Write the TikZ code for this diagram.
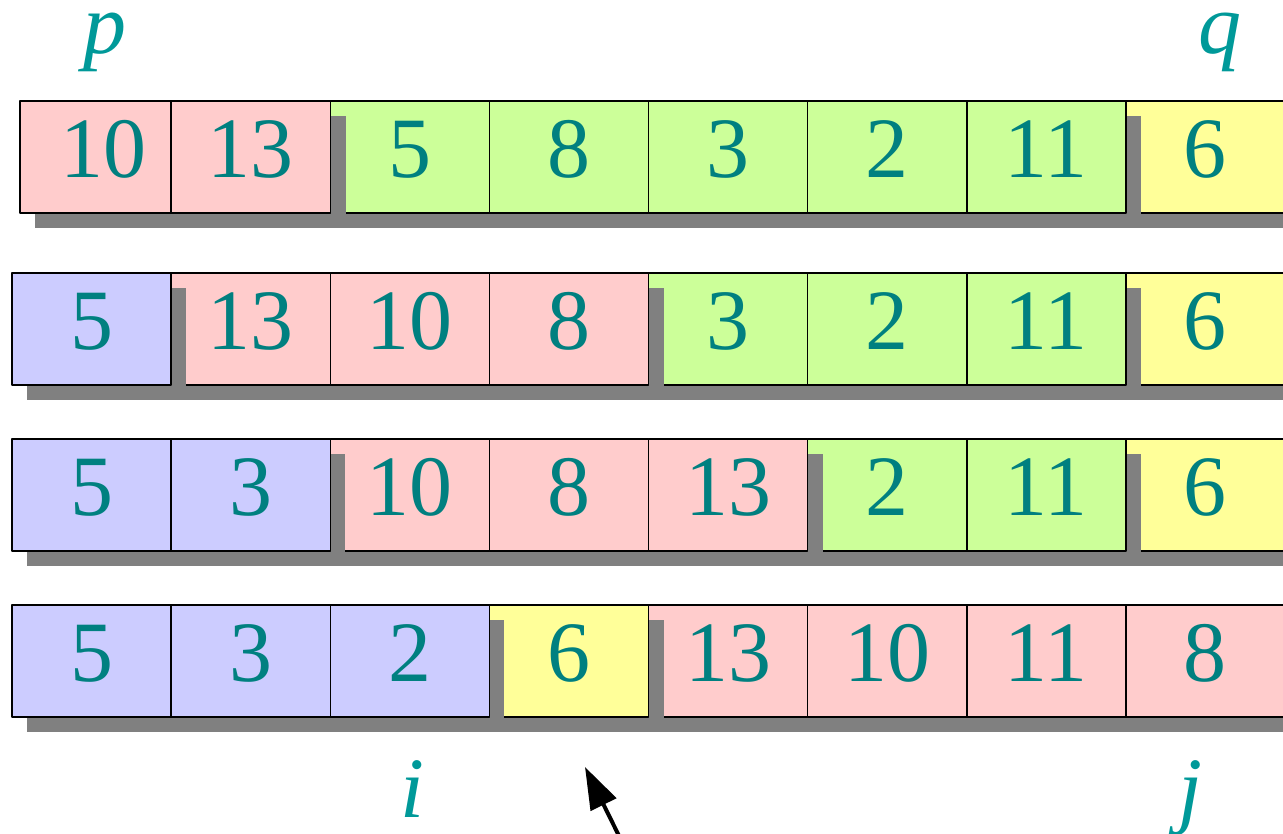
\documentclass[tikz,border=0pt]{standalone}
\usepackage{fontspec}
\setmainfont{Liberation Serif}
\usetikzlibrary{arrows.meta}
\definecolor{pnk}{HTML}{FFCCCC}
\definecolor{grn}{HTML}{CCFF99}
\definecolor{blu}{HTML}{CCCCFF}
\definecolor{ylw}{HTML}{FFFF99}
\definecolor{num}{HTML}{008080}
\definecolor{idx}{HTML}{009999}
\tikzset{
  cell/.style={draw=black, line width=1.5pt, minimum width=159.125pt, minimum height=112pt,
    inner sep=0pt, text=num, text depth=16pt},
  shadowfill/.style={fill=black!50},
  idxlabel/.style={text=idx, font=\fontsize{86}{90}\selectfont\itshape, anchor=base,
    inner sep=0pt, text height=40pt}
}
% one coloured run of cells with its drop shadow: row, first cell, last cell, colour, values
\newcommand\drawgroup[5]{%
  \pgfmathsetmacro\rowtop{{101,273,439,605}[#1-1]}
  \fill[shadowfill] ({12+159.125*(#2-1)+15},\rowtop+15) rectangle ({12+159.125*#3+15},\rowtop+127);
  \foreach \v [count=\k from #2] in {#5}
    \node[cell, fill=#4] (r#1c\k) at ({12+159.125*(\k-0.5)},\rowtop+56) {\v};
}
\begin{document}
\begin{tikzpicture}[x=1pt, y=-1pt, font=\fontsize{86}{90}\selectfont, line join=round]
  \useasboundingbox (0,0) rectangle (1283,834);
  % runs are drawn from right to left, so each shadow falls on the run to its right
  \drawgroup{1}{8}{8}{ylw}{6}
  \drawgroup{1}{3}{7}{grn}{5,8,3,2,11}
  \fill[shadowfill] (35,116) rectangle (346,228);
  \node[cell, fill=pnk, minimum width=151pt] (r1c1) at (95.5,157) {\hspace*{16pt}10};
  \node[cell, fill=pnk] (r1c2) at ({12+159.125*1.5},157) {13};
  \drawgroup{2}{8}{8}{ylw}{6}
  \drawgroup{2}{5}{7}{grn}{3,2,11}
  \drawgroup{2}{2}{4}{pnk}{13,10,8}
  \drawgroup{2}{1}{1}{blu}{5}
  \drawgroup{3}{8}{8}{ylw}{6}
  \drawgroup{3}{6}{7}{grn}{2,11}
  \drawgroup{3}{3}{5}{pnk}{10,8,13}
  \drawgroup{3}{1}{2}{blu}{5,3}
  \drawgroup{4}{5}{8}{pnk}{13,10,11,8}
  \drawgroup{4}{4}{4}{ylw}{6}
  \drawgroup{4}{1}{3}{blu}{5,3,2}
  % indices
  \node[idxlabel] (p) at (105,54) {p};
  \node[idxlabel] (q) at (1220,54) {q};
  \node[idxlabel] (i) at (412,817) {i};
  \node[idxlabel] (j) at (1190,817) {j};
  \coordinate (tail) at (623,844);
  \coordinate (tip) at (585,767);
  \draw[-{Triangle[length=42pt,width=28pt]}, line width=4pt] (tail) -- (tip);
\end{tikzpicture}
\end{document}
